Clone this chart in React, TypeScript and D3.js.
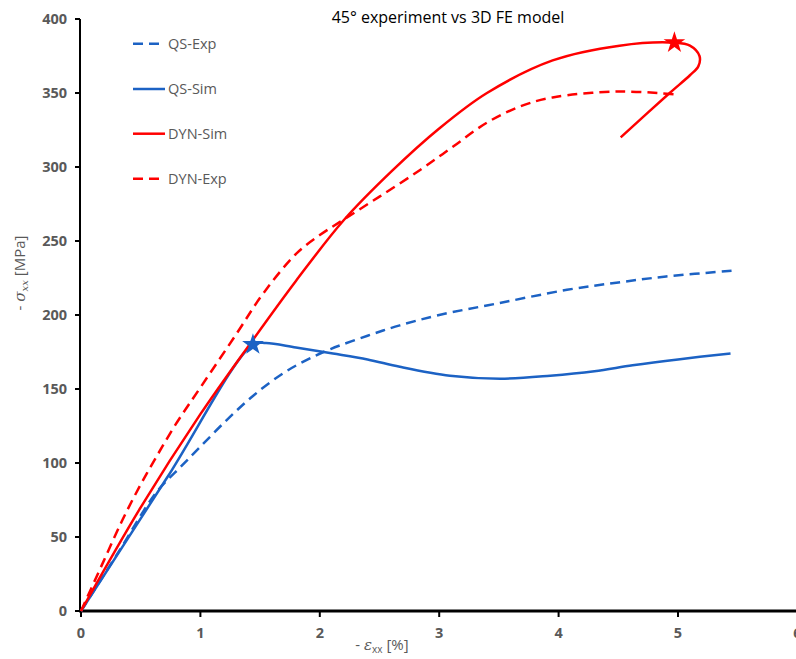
import React from 'react';
import * as d3 from 'd3';

const xTicks = [0, 1, 2, 3, 4, 5, 6];
const yTicks = [0, 50, 100, 150, 200, 250, 300, 350, 400];

const qsSimX = [0, 0.72, 1.44, 1.55, 1.8, 2.11, 2.4, 2.67, 3.09, 3.51, 3.93, 4.3, 4.62, 5.0, 5.44];
const qsSimY = [0, 90, 180, 181, 178, 174, 170, 165, 159, 157, 159, 162, 166, 170, 174];

const qsExpX = [0, 0.3, 0.63, 0.83, 1.0, 1.22, 1.45, 1.7, 1.9, 2.09, 2.4, 2.67, 3.0, 3.5, 4.07, 4.5, 4.9, 5.46];
const qsExpY = [0, 38, 80, 97, 111, 129, 146, 161, 170, 177, 186, 193, 200, 208, 217, 222, 226, 230];

const dynSimX = [0, 0.5, 1.0, 1.42, 1.8, 2.2, 2.6, 3.0, 3.4, 3.95, 4.51, 4.97, 5.1, 5.18, 5.17, 5.1, 4.93, 4.52];
const dynSimY = [0, 70, 133, 181, 223, 264, 297, 326, 350, 372, 382, 384, 382, 375, 368, 362, 350, 320];

const dynExpX = [0, 0.18, 0.35, 0.49, 0.63, 0.8, 1.0, 1.3, 1.53, 1.81, 2.0, 2.19, 2.5, 2.84, 3.12, 3.4, 3.68, 3.95, 4.51, 4.99];
const dynExpY = [0, 32, 62, 84, 104, 127, 151, 187, 215, 242, 254, 264, 280, 298, 314, 330, 341, 347, 351, 349];

const starsX = [1.44, 4.97];
const starsY = [180, 384];

const legendLabels = ['QS-Exp', 'QS-Sim', 'DYN-Sim', 'DYN-Exp'];

const BLUE = '#1c62c4';
const RED = '#ff0000';
const GREY = '#595959';

export default function App() {
  const x = d3.scaleLinear().domain([0, 6]).range([81, 797.4]);
  const y = d3.scaleLinear().domain([0, 400]).range([611, 19]);
  const line = d3
    .line<[number, number]>()
    .x((d) => x(d[0]))
    .y((d) => y(d[1]))
    .curve(d3.curveCatmullRom.alpha(0.5));
  const pts = (xs: number[], ys: number[]) => xs.map((v, i) => [v, ys[i]] as [number, number]);
  const star = d3.symbol().type(d3.symbolStar).size(145)();

  const series = [
    { d: pts(qsExpX, qsExpY), color: BLUE, dash: '10 6' },
    { d: pts(qsSimX, qsSimY), color: BLUE, dash: null },
    { d: pts(dynSimX, dynSimY), color: RED, dash: null },
    { d: pts(dynExpX, dynExpY), color: RED, dash: '10 6' },
  ];
  const legendY = [43.7, 89, 133.7, 178.7];
  const font = "'Open Sans', sans-serif";

  return (
    <svg width={796} height={659} style={{ position: 'absolute', left: 0, top: 0, background: '#fff' }}>
      <rect width={796} height={659} fill="#fff" />
      <text x={448} y={23} textAnchor="middle" fontFamily={font} fontSize={16} fill="#000">
        45° experiment vs 3D FE model
      </text>
      {/* axes */}
      <line x1={80} y1={19} x2={80} y2={612} stroke="#000" strokeWidth={2} />
      <line x1={79} y1={611} x2={796} y2={611} stroke="#000" strokeWidth={3} />
      {yTicks.map((t) => (
        <g key={'y' + t}>
          <line x1={75} x2={80} y1={y(t)} y2={y(t)} stroke="#000" strokeWidth={2} />
          <text x={67} y={y(t) + 5} textAnchor="end" fontFamily={font} fontWeight="bold" fontSize={14.5} fill={GREY}>
            {t}
          </text>
        </g>
      ))}
      {xTicks.map((t) => (
        <g key={'x' + t}>
          <line x1={x(t)} x2={x(t)} y1={611} y2={617} stroke="#000" strokeWidth={2} />
          <text x={x(t)} y={638} textAnchor="middle" fontFamily={font} fontWeight="bold" fontSize={14.5} fill={GREY}>
            {t}
          </text>
        </g>
      ))}
      {/* axis titles */}
      <text x={382} y={650} textAnchor="middle" fontFamily={font} fontSize={15} fill={GREY}>
        {'- '}
        <tspan fontStyle="italic" fontFamily="'DejaVu Serif', serif">ε</tspan>
        <tspan fontSize={10} dy={3}>xx</tspan>
        <tspan dy={-3}>{' [%]'}</tspan>
      </text>
      <text
        transform="translate(25,273) rotate(-90)"
        textAnchor="middle"
        fontFamily={font}
        fontSize={15}
        fill={GREY}
      >
        {'- '}
        <tspan fontStyle="italic" fontFamily="'DejaVu Serif', serif">σ</tspan>
        <tspan fontSize={10} dy={3} fontStyle="italic" fontFamily="'DejaVu Serif', serif">xx</tspan>
        <tspan dy={-3}>{' [MPa]'}</tspan>
      </text>
      {/* series */}
      {series.map((s, i) => (
        <path
          key={'s' + i}
          d={line(s.d) || ''}
          fill="none"
          stroke={s.color}
          strokeWidth={2.5}
          strokeDasharray={s.dash || undefined}
          strokeLinejoin="round"
        />
      ))}
      {/* stars */}
      {starsX.map((sx, i) => (
        <path
          key={'st' + i}
          d={star || ''}
          transform={`translate(${x(sx)},${y(starsY[i])})`}
          fill={i === 0 ? BLUE : RED}
        />
      ))}
      {/* legend */}
      {legendLabels.map((lab, i) => (
        <g key={'l' + i}>
          <line
            x1={133}
            x2={i === 0 || i === 3 ? 160 : 165}
            y1={legendY[i]}
            y2={legendY[i]}
            stroke={series[i].color}
            strokeWidth={2.5}
            strokeDasharray={series[i].dash || undefined}
          />
          <text x={168} y={legendY[i] + 5} fontFamily={font} fontSize={14.5} fill={GREY}>
            {lab}
          </text>
        </g>
      ))}
    </svg>
  );
}
